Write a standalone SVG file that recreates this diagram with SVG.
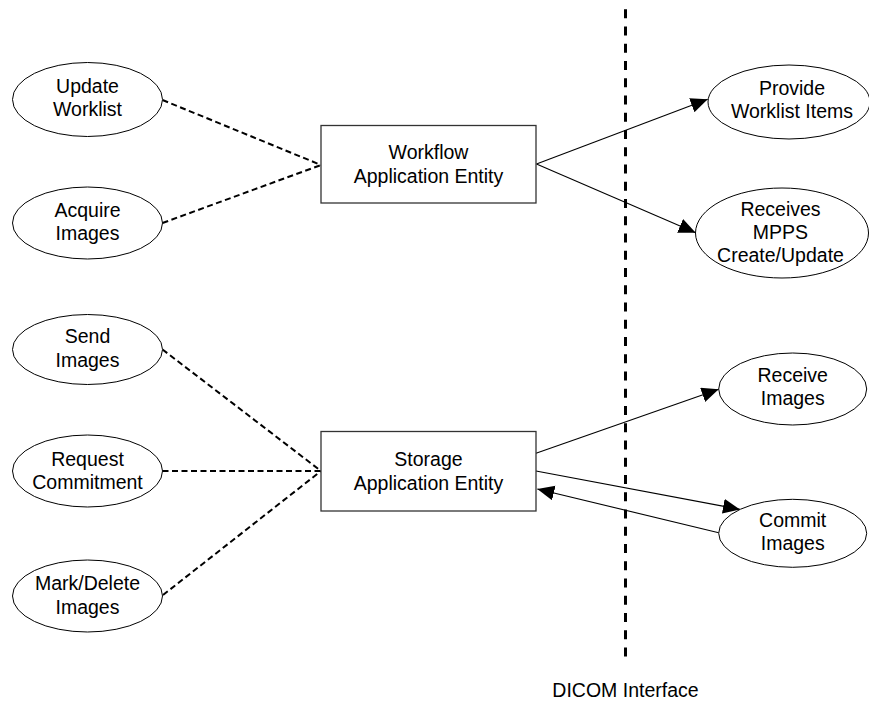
<svg xmlns="http://www.w3.org/2000/svg" width="869" height="702" viewBox="0 0 869 702">
  <style>
    text { font-family: "Liberation Sans", Arial, sans-serif; font-size: 19.5px; fill: #000; text-anchor: middle; }
    .oval { fill: #fff; stroke: #000; stroke-width: 1; }
    .box { fill: #fff; stroke: #333; stroke-width: 1.3; }
    .assoc { fill: none; stroke: #000; stroke-width: 2; stroke-dasharray: 6 3.5; }
    .flow { fill: none; stroke: #000; stroke-width: 1.1; marker-end: url(#head); }
    .boundary { fill: none; stroke: #000; stroke-width: 3; stroke-dasharray: 9 8.25; }
  </style>
  <defs>
    <marker id="head" markerUnits="userSpaceOnUse" markerWidth="18" markerHeight="16" refX="17" refY="7.5" orient="auto">
      <path d="M0,0 L17,7.5 L0,15 Z" fill="#000"/>
    </marker>
  </defs>

  <rect width="869" height="702" fill="#fff"/>

  <!-- DICOM interface boundary -->
  <g id="interface">
    <line class="boundary" x1="625.5" y1="9.3" x2="625.5" y2="657"/>
    <text x="625.5" y="697">DICOM Interface</text>
  </g>

  <!-- connectors -->
  <g id="connectors">
    <line class="assoc" x1="162.5" y1="100" x2="321" y2="165"/>
    <line class="assoc" x1="162.5" y1="223" x2="321" y2="165"/>
    <line class="assoc" x1="162.5" y1="349.5" x2="321" y2="471"/>
    <line class="assoc" x1="162.5" y1="471" x2="321" y2="471"/>
    <line class="assoc" x1="163" y1="595" x2="321" y2="471"/>
    <line class="flow" x1="536.5" y1="164" x2="707.7" y2="99.3"/>
    <line class="flow" x1="536.5" y1="164" x2="695.7" y2="232.7"/>
    <line class="flow" x1="536" y1="453.3" x2="718.7" y2="389.3"/>
    <line class="flow" x1="536" y1="471" x2="740" y2="509.4"/>
    <line class="flow" x1="718.7" y1="532.7" x2="537.3" y2="489"/>
  </g>

  <!-- local real-world activities -->
  <g id="update-worklist">
    <ellipse class="oval" cx="87.5" cy="99.5" rx="75" ry="37"/>
    <text x="87.5" y="92.5">Update</text>
    <text x="87.5" y="116">Worklist</text>
  </g>
  <g id="acquire-images">
    <ellipse class="oval" cx="87.5" cy="223" rx="75" ry="36"/>
    <text x="87.5" y="216.5">Acquire</text>
    <text x="87.5" y="240">Images</text>
  </g>
  <g id="send-images">
    <ellipse class="oval" cx="87.5" cy="349.5" rx="75" ry="35"/>
    <text x="87.5" y="343">Send</text>
    <text x="87.5" y="366.5">Images</text>
  </g>
  <g id="request-commitment">
    <ellipse class="oval" cx="87.5" cy="471" rx="75" ry="36"/>
    <text x="87.5" y="465.5">Request</text>
    <text x="87.5" y="489">Commitment</text>
  </g>
  <g id="mark-delete-images">
    <ellipse class="oval" cx="87.5" cy="596" rx="75" ry="36"/>
    <text x="87.5" y="590">Mark/Delete</text>
    <text x="87.5" y="613.5">Images</text>
  </g>

  <!-- application entities -->
  <g id="workflow-ae">
    <rect class="box" x="321" y="125.5" width="215" height="77.5"/>
    <text x="428.5" y="158.5">Workflow</text>
    <text x="428.5" y="183">Application Entity</text>
  </g>
  <g id="storage-ae">
    <rect class="box" x="321" y="431.5" width="215" height="79.5"/>
    <text x="428.5" y="465.5">Storage</text>
    <text x="428.5" y="490">Application Entity</text>
  </g>

  <!-- remote real-world activities -->
  <g id="provide-worklist-items">
    <ellipse class="oval" cx="789" cy="102" rx="81" ry="37"/>
    <text x="792" y="94.5">Provide</text>
    <text x="792" y="117.5">Worklist Items</text>
  </g>
  <g id="receives-mpps">
    <ellipse class="oval" cx="782" cy="233" rx="86.5" ry="45"/>
    <text x="780.5" y="215.7">Receives</text>
    <text x="780.5" y="238.7">MPPS</text>
    <text x="780.5" y="261.7">Create/Update</text>
  </g>
  <g id="receive-images">
    <ellipse class="oval" cx="792.7" cy="389" rx="74" ry="36"/>
    <text x="792.7" y="381.7">Receive</text>
    <text x="792.7" y="405">Images</text>
  </g>
  <g id="commit-images">
    <ellipse class="oval" cx="792.7" cy="533.3" rx="74" ry="34"/>
    <text x="792.7" y="526.7">Commit</text>
    <text x="792.7" y="550">Images</text>
  </g>
</svg>
